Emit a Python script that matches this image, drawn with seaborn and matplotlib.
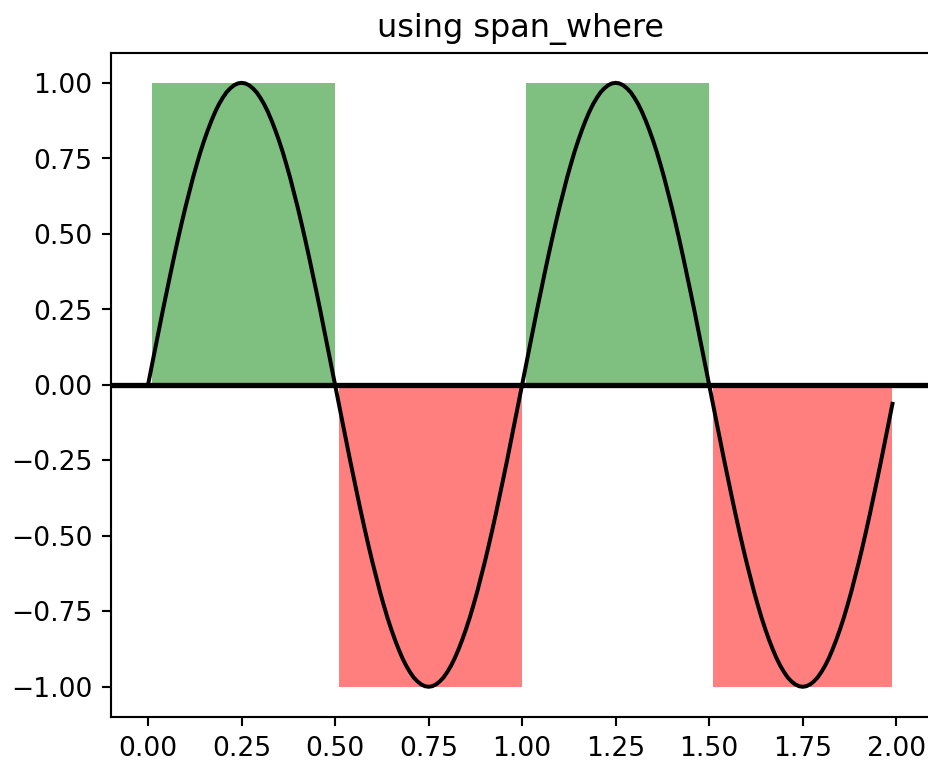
import matplotlib
matplotlib.use("Agg")
import matplotlib.pyplot as plt
import seaborn as sns
import pandas as pd

# curve samples (every 0.01)
t = [0.00, 0.01, 0.02, 0.03, 0.04, 0.05, 0.06, 0.07, 0.08, 0.09,
     0.10, 0.11, 0.12, 0.13, 0.14, 0.15, 0.16, 0.17, 0.18, 0.19,
     0.20, 0.21, 0.22, 0.23, 0.24, 0.25, 0.26, 0.27, 0.28, 0.29,
     0.30, 0.31, 0.32, 0.33, 0.34, 0.35, 0.36, 0.37, 0.38, 0.39,
     0.40, 0.41, 0.42, 0.43, 0.44, 0.45, 0.46, 0.47, 0.48, 0.49,
     0.50, 0.51, 0.52, 0.53, 0.54, 0.55, 0.56, 0.57, 0.58, 0.59,
     0.60, 0.61, 0.62, 0.63, 0.64, 0.65, 0.66, 0.67, 0.68, 0.69,
     0.70, 0.71, 0.72, 0.73, 0.74, 0.75, 0.76, 0.77, 0.78, 0.79,
     0.80, 0.81, 0.82, 0.83, 0.84, 0.85, 0.86, 0.87, 0.88, 0.89,
     0.90, 0.91, 0.92, 0.93, 0.94, 0.95, 0.96, 0.97, 0.98, 0.99,
     1.00, 1.01, 1.02, 1.03, 1.04, 1.05, 1.06, 1.07, 1.08, 1.09,
     1.10, 1.11, 1.12, 1.13, 1.14, 1.15, 1.16, 1.17, 1.18, 1.19,
     1.20, 1.21, 1.22, 1.23, 1.24, 1.25, 1.26, 1.27, 1.28, 1.29,
     1.30, 1.31, 1.32, 1.33, 1.34, 1.35, 1.36, 1.37, 1.38, 1.39,
     1.40, 1.41, 1.42, 1.43, 1.44, 1.45, 1.46, 1.47, 1.48, 1.49,
     1.50, 1.51, 1.52, 1.53, 1.54, 1.55, 1.56, 1.57, 1.58, 1.59,
     1.60, 1.61, 1.62, 1.63, 1.64, 1.65, 1.66, 1.67, 1.68, 1.69,
     1.70, 1.71, 1.72, 1.73, 1.74, 1.75, 1.76, 1.77, 1.78, 1.79,
     1.80, 1.81, 1.82, 1.83, 1.84, 1.85, 1.86, 1.87, 1.88, 1.89,
     1.90, 1.91, 1.92, 1.93, 1.94, 1.95, 1.96, 1.97, 1.98, 1.99]
s = [0.000, 0.063, 0.125, 0.187, 0.249, 0.309, 0.368, 0.426, 0.482, 0.536,
     0.588, 0.637, 0.685, 0.729, 0.771, 0.809, 0.844, 0.876, 0.905, 0.930,
     0.951, 0.969, 0.982, 0.992, 0.998, 1.000, 0.998, 0.992, 0.982, 0.969,
     0.951, 0.930, 0.905, 0.876, 0.844, 0.809, 0.771, 0.729, 0.685, 0.637,
     0.588, 0.536, 0.482, 0.426, 0.368, 0.309, 0.249, 0.187, 0.125, 0.063,
     0.000, -0.063, -0.125, -0.187, -0.249, -0.309, -0.368, -0.426, -0.482, -0.536,
     -0.588, -0.637, -0.685, -0.729, -0.771, -0.809, -0.844, -0.876, -0.905, -0.930,
     -0.951, -0.969, -0.982, -0.992, -0.998, -1.000, -0.998, -0.992, -0.982, -0.969,
     -0.951, -0.930, -0.905, -0.876, -0.844, -0.809, -0.771, -0.729, -0.685, -0.637,
     -0.588, -0.536, -0.482, -0.426, -0.368, -0.309, -0.249, -0.187, -0.125, -0.063,
     0.000, 0.063, 0.125, 0.187, 0.249, 0.309, 0.368, 0.426, 0.482, 0.536,
     0.588, 0.637, 0.685, 0.729, 0.771, 0.809, 0.844, 0.876, 0.905, 0.930,
     0.951, 0.969, 0.982, 0.992, 0.998, 1.000, 0.998, 0.992, 0.982, 0.969,
     0.951, 0.930, 0.905, 0.876, 0.844, 0.809, 0.771, 0.729, 0.685, 0.637,
     0.588, 0.536, 0.482, 0.426, 0.368, 0.309, 0.249, 0.187, 0.125, 0.063,
     0.000, -0.063, -0.125, -0.187, -0.249, -0.309, -0.368, -0.426, -0.482, -0.536,
     -0.588, -0.637, -0.685, -0.729, -0.771, -0.809, -0.844, -0.876, -0.905, -0.930,
     -0.951, -0.969, -0.982, -0.992, -0.998, -1.000, -0.998, -0.992, -0.982, -0.969,
     -0.951, -0.930, -0.905, -0.876, -0.844, -0.809, -0.771, -0.729, -0.685, -0.637,
     -0.588, -0.536, -0.482, -0.426, -0.368, -0.309, -0.249, -0.187, -0.125, -0.063]

# shaded spans
span_start = [0.01, 0.51, 1.01, 1.51]
span_end = [0.50, 1.00, 1.50, 1.99]
span_bottom = [0.0, -1.0, 0.0, -1.0]
span_top = [1.0, 0.0, 1.0, 0.0]
span_color = ["green", "red", "green", "red"]

title = "using span_where"

DPI = 191
W, H = 928, 761
fig = plt.figure(figsize=((W + 0.2) / DPI, (H + 0.2) / DPI), dpi=DPI)
right_px = 945  # axes run past the right edge of the image, as in the reference
px_per_unit = 374.0
x0_px = 148.0
ax = fig.add_axes([111 / W, 44 / H, (right_px - 111) / W, (717 - 52.8) / H])

for a, b_, bot, top, c in zip(span_start, span_end, span_bottom, span_top, span_color):
    ax.bar(a, top - bot, width=b_ - a, bottom=bot, align="edge",
           color=c, alpha=0.5, linewidth=0)

df = pd.DataFrame({"t": t, "s": s})
sns.lineplot(data=df, x="t", y="s", color="black", linewidth=1.5, ax=ax)
ax.axhline(0, color="black", lw=2)

ax.set_xlim((111 - x0_px) / px_per_unit, (right_px - x0_px) / px_per_unit)
ax.set_ylim(-1.1, 1.1)
ax.set_xticks([0.0, 0.25, 0.5, 0.75, 1.0, 1.25, 1.5, 1.75, 2.0])
ax.set_yticks([-1.0, -0.75, -0.5, -0.25, 0.0, 0.25, 0.5, 0.75, 1.0])
ax.xaxis.set_major_formatter(matplotlib.ticker.FormatStrFormatter("%.2f"))
ax.yaxis.set_major_formatter(matplotlib.ticker.FuncFormatter(lambda v, p: ("%.2f" % v).replace("-", "\u2212")))
ax.set_xlabel("")
ax.set_ylabel("")
ax.set_title(title, x=(520 - 111) / (right_px - 111))

fig.savefig("out.png", dpi=DPI)
